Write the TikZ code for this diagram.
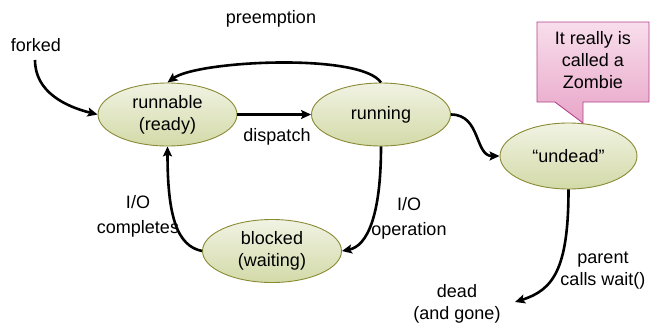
\documentclass[tikz,border=0pt]{standalone}
\usepackage{fontspec}
\setmainfont{Liberation Sans}
\usetikzlibrary{shapes.geometric,arrows.meta}
\definecolor{statetop}{HTML}{F1F3E3}
\definecolor{statebot}{HTML}{D3DAA8}
\definecolor{stateedge}{HTML}{8A8A34}
\definecolor{notetop}{HTML}{F8DEEC}
\definecolor{notebot}{HTML}{E8A5C8}
\definecolor{noteedge}{HTML}{B3418A}
\tikzset{
  x=1pt, y=-1pt,
  every node/.style={font=\fontsize{18}{22}\selectfont, align=center, inner sep=0pt},
  state/.style={ellipse, draw=stateedge, line width=0.9pt,
    top color=statetop, bottom color=statebot,
    minimum width=139pt, minimum height=63pt},
  trans/.style={line width=2.6pt, -{Stealth[length=10pt,width=9pt,inset=2pt]}},
  lbl/.style={},
  widelbl/.style={font=\fontsize{18}{25}\selectfont},
}
\begin{document}
\begin{tikzpicture}
\useasboundingbox (0,0) rectangle (657,325);

% states
\node[state] (runnable) at (167.5,114.5) {runnable\\(ready)};
\node[state] (running)  at (381,114.5) {running};
\node[state] (blocked)  at (272,251) {blocked\\(waiting)};
\node[state, minimum width=137pt, minimum height=66pt] (undead) at (568.5,156) {“undead”};

% free labels
\node[lbl] (forked)     at (36,45)   {forked};
\node[lbl] (preempt)    at (271,19)  {preemption};
\node[lbl] (dispatch)   at (277,137) {dispatch};
\node[widelbl] (iodone) at (138,216) {I/O\\completes};
\node[widelbl] (ioop)   at (409,218) {I/O\\operation};
\node[lbl] (dead)       at (457,304) {dead\\(and gone)};
\node[lbl] (wait)       at (603,271) {parent\\calls wait()};

% loose ends
\coordinate (forkstart) at (35,60);
\coordinate (deadtip)   at (515,302);

% transitions
\draw[trans] (forkstart) .. controls +(0,32) and +(-32,-8) .. (runnable.west);
\draw[trans] (running.north) .. controls +(-20,-30) and +(30,-22) .. (runnable.north);
\draw[trans] (runnable.east) -- (running.west);
\draw[trans] (running.east) .. controls +(30,0) and +(-25,0) .. (undead.west);
\draw[trans] (running.south) .. controls +(0,70) and +(25,-5) .. (blocked.east);
\draw[trans] (blocked.west) .. controls +(-25,-5) and +(0,70) .. (runnable.south);
\draw[trans] (undead.south) .. controls +(0,80) and +(38,-12) .. (deadtip);

% speech bubble
\path[draw=noteedge, line width=0.9pt, top color=notetop, bottom color=notebot]
  (537,22) -- (649,22) -- (649,102) -- (583,102) -- (583,123) -- (555,102) -- (537,102) -- cycle;
\node (zombie) at (593,60) {It really is\\called a\\Zombie};
\end{tikzpicture}
\end{document}
